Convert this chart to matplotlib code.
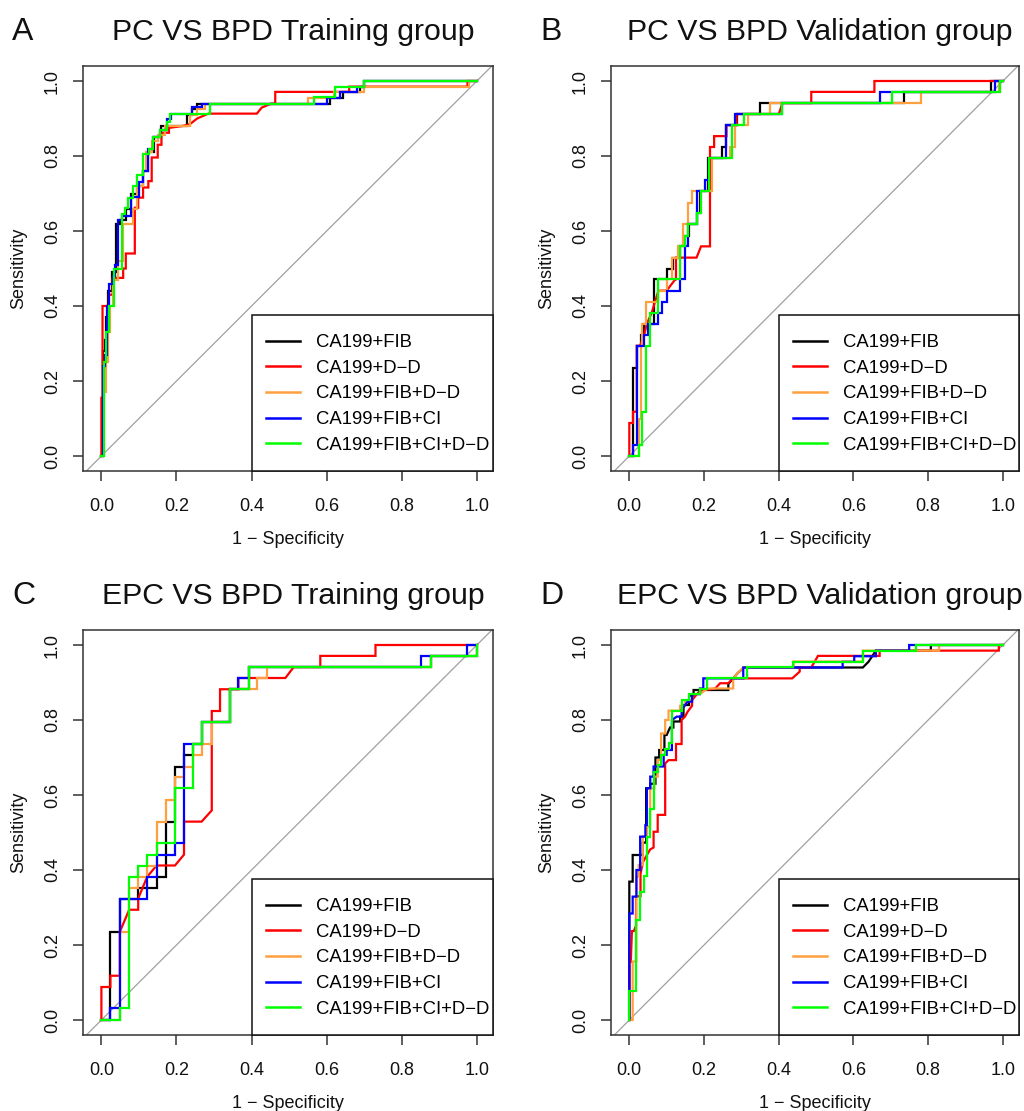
import matplotlib
matplotlib.use('Agg')
import matplotlib.pyplot as plt
from matplotlib.patches import Rectangle

plt.rcParams['font.family'] = ['Liberation Sans', 'DejaVu Sans']

# ---------------- data (1 - specificity, sensitivity) ----------------
LABELS = ["CA199+FIB", "CA199+D\u2212D", "CA199+FIB+D\u2212D", "CA199+FIB+CI", "CA199+FIB+CI+D\u2212D"]
COLORS = ['#000000', '#FF0000', '#FFA040', '#0000FF', '#00FF00']
TITLES = ["PC VS BPD Training group", "PC VS BPD Validation group",
          "EPC VS BPD Training group", "EPC VS BPD Validation group"]
LETTERS = ["A", "B", "C", "D"]
TICKS = [0.0, 0.2, 0.4, 0.6, 0.8, 1.0]
TICK_LABELS = ["0.0", "0.2", "0.4", "0.6", "0.8", "1.0"]

# Panel A
A_FIB = [(0,0),(0.004,0),(0.004,0.28),(0.009,0.28),(0.009,0.31),(0.013,0.31),(0.013,0.37),(0.018,0.37),
         (0.018,0.44),(0.027,0.44),(0.027,0.49),(0.04,0.49),(0.04,0.62),(0.05,0.62),(0.05,0.63),(0.065,0.63),
         (0.065,0.66),(0.08,0.66),(0.08,0.70),(0.095,0.70),(0.095,0.72),(0.11,0.72),(0.11,0.76),(0.125,0.76),
         (0.125,0.81),(0.14,0.81),(0.14,0.85),(0.158,0.85),(0.158,0.88),(0.227,0.88),(0.227,0.91),(0.24,0.91),
         (0.24,0.925),(0.254,0.925),(0.254,0.94),(0.61,0.94),(0.61,0.955),(0.643,0.955),(0.643,0.97),(0.69,0.97),
         (0.69,0.985),(0.70,0.985),(0.70,1.0),(1,1)]
A_DD = [(0,0),(0,0.155),(0.003,0.155),(0.003,0.40),(0.02,0.40),(0.02,0.43),(0.03,0.43),(0.03,0.475),
        (0.058,0.475),(0.058,0.50),(0.065,0.50),(0.065,0.54),(0.089,0.54),(0.089,0.662),(0.098,0.662),
        (0.098,0.689),(0.111,0.689),(0.111,0.716),(0.125,0.716),(0.125,0.733),(0.134,0.733),(0.134,0.796),
        (0.15,0.796),(0.15,0.83),(0.16,0.83),(0.16,0.862),(0.18,0.862),(0.18,0.875),(0.216,0.88),(0.236,0.885),
        (0.255,0.90),(0.285,0.913),(0.414,0.913),(0.427,0.929),(0.453,0.94),(0.463,0.94),(0.463,0.971),
        (0.66,0.971),(0.66,0.985),(0.975,0.985),(0.975,1.0),(1,1)]
A_FIB_DD = [(0,0),(0.008,0),(0.008,0.17),(0.012,0.17),(0.012,0.25),(0.018,0.25),(0.018,0.33),(0.024,0.33),
            (0.024,0.40),(0.032,0.40),(0.032,0.47),(0.045,0.47),(0.045,0.52),(0.058,0.52),(0.058,0.62),
            (0.085,0.62),(0.085,0.66),(0.095,0.66),(0.095,0.72),(0.11,0.72),(0.11,0.76),(0.118,0.76),
            (0.118,0.81),(0.135,0.81),(0.135,0.84),(0.15,0.84),(0.15,0.855),(0.17,0.855),(0.17,0.88),
            (0.236,0.88),(0.236,0.91),(0.255,0.91),(0.255,0.925),(0.275,0.925),(0.275,0.94),(0.55,0.94),
            (0.55,0.955),(0.62,0.955),(0.62,0.97),(0.70,0.97),(0.70,0.985),(0.98,0.985),(0.98,1.0),(1,1)]
A_FIB_CI = [(0,0),(0.005,0),(0.005,0.24),(0.01,0.24),(0.01,0.27),(0.014,0.27),(0.014,0.40),(0.02,0.40),
            (0.02,0.46),(0.03,0.46),(0.03,0.48),(0.036,0.48),(0.036,0.51),(0.045,0.51),(0.045,0.63),
            (0.055,0.63),(0.055,0.64),(0.08,0.64),(0.08,0.69),(0.10,0.69),(0.10,0.73),(0.11,0.73),(0.11,0.76),
            (0.125,0.76),(0.125,0.82),(0.138,0.82),(0.138,0.85),(0.155,0.85),(0.155,0.87),(0.175,0.87),
            (0.175,0.90),(0.185,0.90),(0.185,0.912),(0.24,0.912),(0.24,0.93),(0.268,0.93),(0.268,0.94),
            (0.60,0.94),(0.60,0.955),(0.635,0.955),(0.635,0.97),(0.68,0.97),(0.68,0.985),(0.70,0.985),
            (0.70,1.0),(1,1)]
A_ALL = [(0,0),(0.006,0),(0.006,0.25),(0.012,0.25),(0.012,0.33),(0.02,0.33),(0.02,0.40),(0.034,0.40),
         (0.034,0.50),(0.055,0.50),(0.055,0.645),(0.064,0.645),(0.064,0.662),(0.071,0.662),(0.071,0.689),
         (0.083,0.689),(0.083,0.72),(0.094,0.72),(0.094,0.75),(0.111,0.75),(0.111,0.805),(0.127,0.805),
         (0.127,0.82),(0.138,0.82),(0.138,0.85),(0.156,0.85),(0.156,0.87),(0.175,0.87),(0.175,0.89),
         (0.182,0.89),(0.182,0.912),(0.29,0.912),(0.29,0.938),(0.565,0.938),(0.565,0.958),(0.623,0.958),
         (0.623,0.985),(0.70,0.985),(0.70,1.0),(1,1)]

# Panel B
B_FIB = [(0,0),(0.01,0),(0.01,0.235),(0.02,0.235),(0.02,0.294),(0.03,0.294),(0.03,0.324),(0.04,0.324),
         (0.04,0.353),(0.065,0.353),(0.065,0.471),(0.10,0.471),(0.10,0.50),(0.118,0.50),(0.118,0.529),
         (0.135,0.529),(0.135,0.559),(0.15,0.559),(0.15,0.588),(0.16,0.588),(0.16,0.618),(0.18,0.618),
         (0.18,0.647),(0.19,0.647),(0.19,0.706),(0.21,0.706),(0.21,0.794),(0.247,0.794),(0.247,0.824),
         (0.26,0.824),(0.26,0.882),(0.287,0.882),(0.287,0.912),(0.349,0.912),(0.349,0.941),(0.736,0.941),
         (0.736,0.971),(0.968,0.971),(0.968,1.0),(1,1)]
B_DD = [(0,0),(0,0.088),(0.01,0.088),(0.01,0.118),(0.02,0.118),(0.02,0.294),(0.029,0.294),(0.04,0.324),
        (0.047,0.353),(0.06,0.382),(0.069,0.412),(0.078,0.441),(0.10,0.441),(0.123,0.471),(0.125,0.471),
        (0.125,0.529),(0.18,0.529),(0.192,0.559),(0.216,0.559),(0.216,0.824),(0.227,0.824),(0.227,0.853),
        (0.26,0.853),(0.26,0.882),(0.287,0.882),(0.287,0.912),(0.40,0.912),(0.41,0.941),(0.487,0.941),
        (0.487,0.971),(0.656,0.971),(0.656,1.0),(1,1)]
B_FIB_DD = [(0,0),(0.025,0),(0.025,0.10),(0.03,0.10),(0.03,0.294),(0.034,0.294),(0.034,0.353),(0.045,0.353),
            (0.045,0.412),(0.078,0.412),(0.078,0.441),(0.10,0.441),(0.10,0.471),(0.114,0.471),(0.114,0.529),
            (0.13,0.529),(0.13,0.559),(0.145,0.559),(0.145,0.618),(0.158,0.618),(0.158,0.676),(0.167,0.676),
            (0.167,0.706),(0.22,0.706),(0.22,0.794),(0.27,0.794),(0.27,0.824),(0.283,0.824),(0.283,0.882),
            (0.318,0.882),(0.318,0.912),(0.376,0.912),(0.376,0.941),(0.78,0.941),(0.78,0.971),(0.99,0.971),
            (0.99,1.0),(1,1)]
B_FIB_CI = [(0,0),(0.01,0),(0.01,0.029),(0.02,0.029),(0.02,0.294),(0.04,0.294),(0.04,0.324),(0.05,0.324),
            (0.05,0.353),(0.078,0.353),(0.078,0.382),(0.087,0.382),(0.087,0.412),(0.10,0.412),(0.10,0.441),
            (0.136,0.441),(0.136,0.471),(0.148,0.471),(0.148,0.559),(0.158,0.559),(0.158,0.618),(0.18,0.618),
            (0.18,0.706),(0.203,0.706),(0.203,0.735),(0.214,0.735),(0.214,0.794),(0.26,0.794),(0.26,0.882),
            (0.283,0.882),(0.283,0.912),(0.41,0.912),(0.41,0.941),(0.672,0.941),(0.672,0.971),(0.98,0.971),
            (0.98,1.0),(1,1)]
B_ALL = [(0,0),(0.025,0),(0.025,0.029),(0.034,0.029),(0.034,0.118),(0.045,0.118),(0.045,0.294),(0.056,0.294),
         (0.056,0.382),(0.078,0.382),(0.078,0.471),(0.136,0.471),(0.136,0.559),(0.148,0.559),(0.148,0.588),
         (0.158,0.588),(0.158,0.618),(0.18,0.618),(0.18,0.647),(0.192,0.647),(0.192,0.706),(0.214,0.706),
         (0.214,0.794),(0.274,0.794),(0.274,0.882),(0.307,0.882),(0.307,0.912),(0.41,0.912),(0.41,0.941),
         (0.704,0.941),(0.704,0.971),(0.992,0.971),(0.992,1.0),(1,1)]

# Panel C
C_FIB = [(0,0),(0.024,0),(0.024,0.235),(0.049,0.235),(0.049,0.324),(0.098,0.324),(0.098,0.353),(0.147,0.353),
         (0.147,0.382),(0.172,0.382),(0.172,0.529),(0.196,0.529),(0.196,0.676),(0.22,0.676),(0.22,0.706),
         (0.243,0.706),(0.243,0.735),(0.267,0.735),(0.267,0.794),(0.343,0.794),(0.343,0.882),(0.392,0.882),
         (0.392,0.941),(0.877,0.941),(0.877,0.971),(1.0,0.971),(1,1)]
C_DD = [(0,0),(0,0.088),(0.024,0.088),(0.024,0.118),(0.049,0.118),(0.049,0.235),(0.074,0.294),(0.098,0.294),
        (0.098,0.324),(0.122,0.382),(0.147,0.412),(0.196,0.412),(0.22,0.441),(0.22,0.529),(0.267,0.529),
        (0.294,0.559),(0.294,0.824),(0.316,0.824),(0.316,0.882),(0.365,0.882),(0.365,0.912),(0.49,0.912),
        (0.512,0.941),(0.583,0.941),(0.583,0.971),(0.73,0.971),(0.73,1.0),(1,1)]
C_FIB_DD = [(0,0),(0.049,0),(0.049,0.235),(0.074,0.235),(0.074,0.353),(0.098,0.353),(0.098,0.382),
            (0.122,0.382),(0.122,0.412),(0.147,0.412),(0.147,0.529),(0.172,0.529),(0.172,0.588),(0.196,0.588),
            (0.196,0.647),(0.22,0.647),(0.22,0.676),(0.243,0.676),(0.243,0.706),(0.267,0.706),(0.267,0.735),
            (0.294,0.735),(0.294,0.794),(0.343,0.794),(0.343,0.882),(0.414,0.882),(0.414,0.912),(0.441,0.912),
            (0.441,0.941),(0.877,0.941),(0.877,0.971),(1.0,0.971),(1,1)]
C_FIB_CI = [(0,0),(0.024,0),(0.024,0.031),(0.049,0.031),(0.049,0.324),(0.122,0.324),(0.122,0.382),
            (0.147,0.382),(0.147,0.441),(0.196,0.441),(0.196,0.471),(0.22,0.471),(0.22,0.735),(0.267,0.735),
            (0.267,0.794),(0.343,0.794),(0.343,0.882),(0.365,0.882),(0.365,0.912),(0.392,0.912),(0.392,0.941),
            (0.852,0.941),(0.852,0.971),(0.975,0.971),(0.975,1.0),(1,1)]
C_ALL = [(0,0),(0.049,0),(0.049,0.031),(0.074,0.031),(0.074,0.382),(0.098,0.382),(0.098,0.412),(0.122,0.412),
         (0.122,0.441),(0.147,0.441),(0.147,0.471),(0.196,0.471),(0.196,0.618),(0.243,0.618),(0.243,0.735),
         (0.267,0.735),(0.267,0.794),(0.343,0.794),(0.343,0.882),(0.392,0.882),(0.392,0.941),(0.877,0.941),
         (0.877,0.971),(1.0,0.971),(1,1)]

# Panel D
D_FIB = [(0,0),(0,0.369),(0.009,0.369),(0.009,0.44),(0.036,0.44),(0.036,0.473),(0.045,0.473),(0.045,0.618),
         (0.056,0.618),(0.056,0.63),(0.07,0.63),(0.07,0.70),(0.08,0.70),(0.08,0.72),(0.094,0.72),(0.094,0.76),
         (0.10,0.76),(0.109,0.78),(0.118,0.78),(0.118,0.796),(0.136,0.796),(0.136,0.809),(0.145,0.809),
         (0.145,0.84),(0.16,0.84),(0.16,0.865),(0.172,0.865),(0.172,0.88),(0.265,0.88),(0.265,0.896),
         (0.278,0.911),(0.29,0.925),(0.307,0.94),(0.625,0.94),(0.64,0.955),(0.65,0.97),(0.66,0.985),
         (0.807,0.985),(0.807,1.0),(1,1)]
D_DD = [(0,0),(0,0.155),(0.004,0.155),(0.007,0.237),(0.012,0.237),(0.018,0.252),(0.018,0.33),(0.03,0.33),
        (0.03,0.39),(0.036,0.42),(0.047,0.44),(0.056,0.455),(0.065,0.46),(0.065,0.502),(0.076,0.502),
        (0.076,0.547),(0.096,0.547),(0.096,0.684),(0.105,0.693),(0.125,0.693),(0.125,0.736),(0.14,0.736),
        (0.14,0.80),(0.149,0.809),(0.156,0.822),(0.168,0.838),(0.168,0.853),(0.181,0.869),(0.19,0.878),
        (0.23,0.884),(0.243,0.898),(0.265,0.898),(0.278,0.911),(0.436,0.911),(0.456,0.929),(0.456,0.94),
        (0.487,0.94),(0.505,0.971),(0.67,0.971),(0.67,0.985),(0.989,0.985),(0.989,1.0),(1,1)]
D_FIB_DD = [(0,0),(0.009,0),(0.009,0.156),(0.019,0.156),(0.019,0.311),(0.019,0.382),(0.025,0.382),
            (0.025,0.413),(0.036,0.413),(0.036,0.489),(0.047,0.489),(0.047,0.516),(0.056,0.516),(0.056,0.618),
            (0.067,0.618),(0.067,0.649),(0.076,0.649),(0.076,0.693),(0.085,0.693),(0.085,0.764),(0.096,0.764),
            (0.096,0.80),(0.105,0.80),(0.105,0.825),(0.136,0.825),(0.136,0.838),(0.149,0.838),(0.149,0.853),
            (0.168,0.853),(0.168,0.869),(0.189,0.869),(0.209,0.884),(0.278,0.884),(0.278,0.911),(0.29,0.925),
            (0.305,0.94),(0.44,0.94),(0.44,0.956),(0.625,0.956),(0.625,0.985),(0.829,0.985),(0.829,1.0),(1,1)]
D_FIB_CI = [(0,0),(0,0.284),(0.009,0.284),(0.009,0.329),(0.019,0.329),(0.019,0.40),(0.029,0.40),(0.029,0.489),
            (0.043,0.489),(0.043,0.52),(0.047,0.52),(0.047,0.618),(0.056,0.618),(0.056,0.649),(0.065,0.649),
            (0.065,0.676),(0.092,0.676),(0.092,0.707),(0.10,0.707),(0.10,0.72),(0.114,0.72),(0.114,0.80),
            (0.127,0.809),(0.14,0.809),(0.14,0.827),(0.156,0.849),(0.168,0.849),(0.168,0.869),(0.189,0.869),
            (0.189,0.884),(0.198,0.884),(0.198,0.911),(0.305,0.911),(0.305,0.94),(0.571,0.94),(0.571,0.955),
            (0.602,0.955),(0.602,0.97),(0.66,0.97),(0.66,0.985),(0.749,0.985),(0.749,1.0),(1,1)]
D_ALL = [(0,0),(0,0.078),(0.019,0.078),(0.019,0.267),(0.029,0.267),(0.029,0.342),(0.038,0.342),(0.038,0.384),
         (0.047,0.384),(0.047,0.489),(0.056,0.489),(0.056,0.564),(0.067,0.564),(0.067,0.662),(0.076,0.662),
         (0.076,0.68),(0.085,0.68),(0.085,0.707),(0.096,0.707),(0.096,0.724),(0.105,0.724),(0.105,0.738),
         (0.114,0.738),(0.114,0.825),(0.14,0.825),(0.14,0.853),(0.161,0.853),(0.161,0.869),(0.189,0.869),
         (0.189,0.884),(0.209,0.884),(0.209,0.911),(0.314,0.911),(0.314,0.942),(0.438,0.942),(0.438,0.956),
         (0.625,0.956),(0.625,0.985),(0.768,0.985),(0.768,1.0),(1,1)]

PANELS = [
    [A_FIB, A_DD, A_FIB_DD, A_FIB_CI, A_ALL],
    [B_FIB, B_DD, B_FIB_DD, B_FIB_CI, B_ALL],
    [C_FIB, C_DD, C_FIB_DD, C_FIB_CI, C_ALL],
    [D_FIB, D_DD, D_FIB_DD, D_FIB_CI, D_ALL],
]

# ---------------- layout ----------------
W, H = 1024, 1111
fig = plt.figure(figsize=(W / 100, H / 100), dpi=100)
fig.patch.set_facecolor('white')

BOXES = [(83, 66, 493, 471), (611, 66, 1019, 471), (83, 630, 493, 1035), (611, 630, 1019, 1035)]
LETTER_X = [12, 540, 12, 540]
EDGE = '#333333'

for i, (l, t, r, b) in enumerate(BOXES):
    aw, ah = r - l, b - t
    ax = fig.add_axes([l / W, 1 - b / H, aw / W, ah / H])
    ax.set_xlim(-0.049, 1.043)
    ax.set_ylim(-0.04, 1.04)
    ax.axline((0, 0), (1, 1), color='#A0A0A0', lw=0.9, zorder=1)
    for pts, col, lab in zip(PANELS[i], COLORS, LABELS):
        xs = [p[0] for p in pts]
        ys = [p[1] for p in pts]
        ax.plot(xs, ys, color=col, lw=1.6, label=lab, zorder=2,
                solid_joinstyle='miter')
    for s in ax.spines.values():
        s.set_color(EDGE)
        s.set_linewidth(1.1)
    ax.set_xticks(TICKS)
    ax.set_xticklabels(TICK_LABELS)
    ax.set_yticks(TICKS)
    ax.set_yticklabels(TICK_LABELS, rotation=90, va='center')
    ax.tick_params(direction='out', length=7, width=1.1, color=EDGE,
                   labelsize=13, labelcolor='#111111')
    ax.tick_params(axis='x', pad=12.5)
    ax.tick_params(axis='y', pad=9)
    ax.set_xlabel("1 \u2212 Specificity", fontsize=13, color='#111111')
    ax.xaxis.set_label_coords(0.5, (b - 540) / ah if i < 2 else (b - 1104) / ah)
    ax.xaxis.label.set_va('center')
    ax.set_ylabel("Sensitivity", fontsize=13, color='#111111')
    ax.yaxis.set_label_coords((19 - l) / aw if i % 2 == 0 else (547 - l) / aw, 0.5)
    ax.yaxis.label.set_va('center')

    # legend box (frame drawn separately, flush with the axes corner)
    frame_left = (252 - 83) / 410
    frame_top = (471 - 315) / 405
    ax.add_patch(Rectangle((frame_left, 0), 1 - frame_left, frame_top, transform=ax.transAxes,
                           facecolor='white', edgecolor='#111111', lw=1.1, zorder=5,
                           clip_on=False))
    leg = ax.legend(loc='upper left', bbox_to_anchor=((266 - 83) / 410, (471 - 334) / 405),
                    borderaxespad=0, borderpad=0, frameon=False,
                    prop={'size': 13.3}, handlelength=1.85, handletextpad=0.85, labelspacing=0.47)
    leg.set_zorder(6)
    for ln in leg.get_lines():
        ln.set_linewidth(1.8)

    cx = (l + r) / 2 + 5
    base = 40 if i < 2 else 604
    fig.text(cx / W, 1 - base / H, TITLES[i], ha='center', va='baseline', fontsize=21.8, color='#111111')
    fig.text(LETTER_X[i] / W, 1 - base / H, LETTERS[i], ha='left', va='baseline', fontsize=23, color='#111111')

fig.savefig('out.png', dpi=100)
